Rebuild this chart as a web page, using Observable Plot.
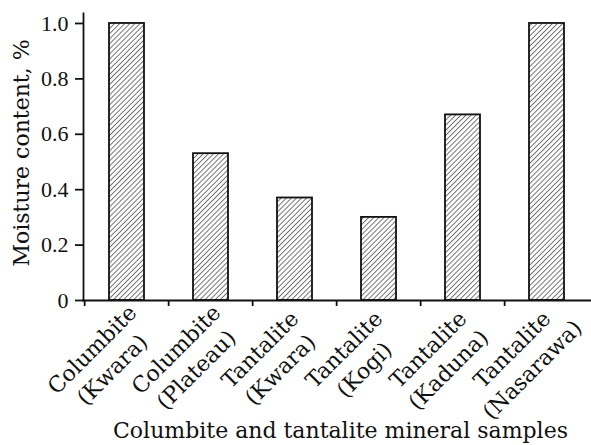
<!DOCTYPE html>
<html>
<head>
<meta charset="utf-8">
<script src="https://cdn.jsdelivr.net/npm/d3@7"></script>
<script src="https://cdn.jsdelivr.net/npm/@observablehq/plot@0.6"></script>
<style>
  html, body { margin: 0; padding: 0; background: white; }
</style>
</head>
<body>
<div id="chart"></div>
<script>
const categories = [
  "Columbite\n(Kwara)",
  "Columbite\n(Plateau)",
  "Tantalite\n(Kwara)",
  "Tantalite\n(Kogi)",
  "Tantalite\n(Kaduna)",
  "Tantalite\n(Nasarawa)"
];
const moisture = [1.0, 0.53, 0.37, 0.30, 0.67, 1.0];
const yTicks = [0, 0.2, 0.4, 0.6, 0.8, 1.0];
const yTickLabels = ["0", "0.2", "0.4", "0.6", "0.8", "1.0"];
const xTitle = "Columbite and tantalite mineral samples";
const yTitle = "Moisture content, %";

const data = categories.map((c, i) => ({cat: c, value: moisture[i]}));

const W = 591, H = 445, ML = 83, MR = 0, MT = 13, MB = 145;
const step = (W - ML - MR) / categories.length;

const chart = Plot.plot({
  width: W,
  height: H,
  marginLeft: ML,
  marginRight: MR,
  marginTop: MT,
  marginBottom: MB,
  style: {fontFamily: "DejaVu Serif", fontSize: "22px", color: "#111", background: "white", overflow: "visible"},
  x: {domain: categories, paddingInner: 0.58, paddingOuter: 0.29, axis: null},
  y: {domain: [0, 1.036], axis: null},
  marks: [
    Plot.barY(data, {x: "cat", y: "value", fill: "url(#hatch)", stroke: "#111", strokeWidth: 1.8}),
    Plot.frame({anchor: "left", strokeWidth: 1.8}),
    Plot.frame({anchor: "bottom", strokeWidth: 1.8}),
    Plot.axisY({ticks: yTicks, tickFormat: (d, i) => yTickLabels[i], tickSize: 8, tickPadding: 7, strokeWidth: 1.8, label: null, fontSize: 22, fontFamily: "Liberation Serif"}),
    Plot.axisX({tickSize: 6, strokeWidth: 1.8, tickFormat: () => "", dx: -step / 2, label: null}),
    Plot.text(data, {x: "cat", text: "cat", frameAnchor: "bottom", rotate: -45, textAnchor: "middle", lineAnchor: "middle", dx: -26, dy: 58, lineHeight: 1.3, fontSize: 22}),
    Plot.text([xTitle], {frameAnchor: "bottom", textAnchor: "middle", lineAnchor: "middle", dx: 3, dy: 130, fontSize: 22}),
    Plot.text([yTitle], {frameAnchor: "left", rotate: -90, textAnchor: "middle", lineAnchor: "middle", dx: -62, dy: -4, fontSize: 22})
  ]
});

const svgNS = "http://www.w3.org/2000/svg";
const defs = document.createElementNS(svgNS, "defs");
defs.innerHTML = `<pattern id="hatch" width="3.6" height="3.6" patternUnits="userSpaceOnUse" patternTransform="rotate(45)">
  <rect width="3.6" height="3.6" fill="white"/>
  <line x1="0.5" y1="0" x2="0.5" y2="3.6" stroke="#444" stroke-width="0.75"/>
</pattern>`;
chart.insertBefore(defs, chart.firstChild);
document.getElementById("chart").appendChild(chart);
</script>
</body>
</html>
